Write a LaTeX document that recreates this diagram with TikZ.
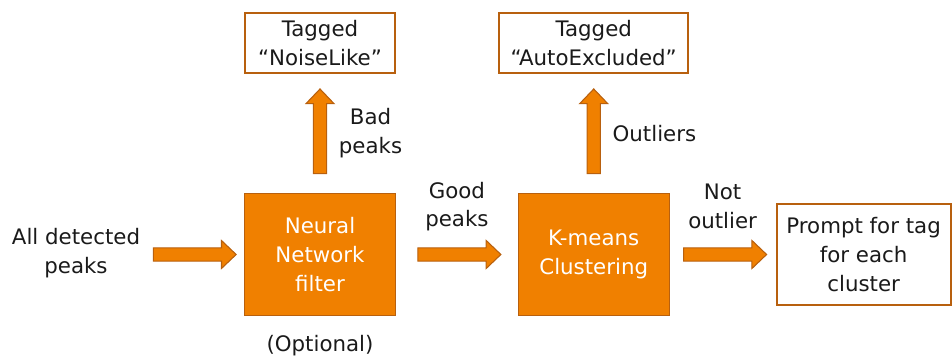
\documentclass[tikz,border=0pt]{standalone}
\usepackage{fontspec}
\setmainfont{DejaVu Sans}
\usepackage{tikz}
\usetikzlibrary{positioning, calc}
\definecolor{flow}{HTML}{F08000}
\definecolor{flowedge}{HTML}{B8600E}
\definecolor{ink}{HTML}{1A1A1A}
\tikzset{
  stage/.style    = {rectangle, draw=flowedge, thick, fill=flow, text=white,
                     minimum width=113pt, minimum height=92pt,
                     align=center, font=\fontsize{16}{21.5}\selectfont},
  result/.style   = {rectangle, draw=flowedge, line width=1.5pt, fill=white, text=ink,
                     minimum height=45pt, align=center,
                     font=\fontsize{16}{21.5}\selectfont},
  lbl/.style      = {inner sep=0pt, align=center, text=ink,
                     font=\fontsize{16}{21.5}\selectfont},
  blockarr/.style = {draw=flowedge, fill=flow, line width=0.8pt, line join=miter,
                     to path={
                       ($(\tikztostart)!5pt!90:(\tikztotarget)$)
                       -- ($($(\tikztotarget)!11pt!(\tikztostart)$)!5pt!90:(\tikztotarget)$)
                       -- ($($(\tikztotarget)!11pt!(\tikztostart)$)!10.5pt!90:(\tikztotarget)$)
                       -- (\tikztotarget)
                       -- ($($(\tikztotarget)!11pt!(\tikztostart)$)!10.5pt!-90:(\tikztotarget)$)
                       -- ($($(\tikztotarget)!11pt!(\tikztostart)$)!5pt!-90:(\tikztotarget)$)
                       -- ($(\tikztostart)!5pt!-90:(\tikztotarget)$)
                       -- cycle}},
}

\begin{document}
\begin{tikzpicture}[x=0.75pt, y=-0.75pt]
  \useasboundingbox (0,0) rectangle (952,360);

  % ----- main stages -----
  \node[stage] (nn) at (320,254.5) {Neural\\Network\\filter};
  \node[stage, right=91.5pt of nn] (km) {K-means\\Clustering};
  \node[result, right=79.5pt of km, minimum width=130.5pt, minimum height=75.75pt] (prompt)
       {Prompt for tag\\for each\\cluster};

  % ----- tagged outputs -----
  \node[result, above=89pt of nn, minimum width=113pt] (noise) {Tagged\\“NoiseLike”};
  \node[result, above=89pt of km, minimum width=141.75pt] (auto) {Tagged\\“AutoExcluded”};

  \node[lbl] (peaks) at (76,253) {All detected\\peaks};
  \node[lbl, below=14pt of nn] (opt) {(Optional)};

  % ----- block arrows -----
  \draw[blockarr] ($(peaks.east |- nn.west)+(13,0)$) to ([xshift=-6pt]nn.west);
  \draw[blockarr] ([xshift=16.5pt]nn.east) to ([xshift=-12.75pt]km.west);
  \draw[blockarr] ([xshift=10.5pt]km.east) to ([xshift=-6.75pt]prompt.west);
  \draw[blockarr] ([yshift=14.25pt]nn.north) to ([yshift=-11.25pt]noise.south);
  \draw[blockarr] ([yshift=14.25pt]km.north) to ([yshift=-11.25pt]auto.south);

  \node[lbl, anchor=west, xshift=14pt] (bad) at ($(nn.north)!0.5!(noise.south)$) {Bad\\peaks};
  \node[lbl, anchor=west, xshift=14pt] (outl) at ($(km.north)!0.5!(auto.south)$) {Outliers};
  \node[lbl, yshift=36pt] (good) at ($(nn.east)!0.5!(km.west)$) {Good\\peaks};
  \node[lbl, yshift=36pt] (notout) at ($(km.east)!0.5!(prompt.west)$) {Not\\outlier};

\end{tikzpicture}
\end{document}
